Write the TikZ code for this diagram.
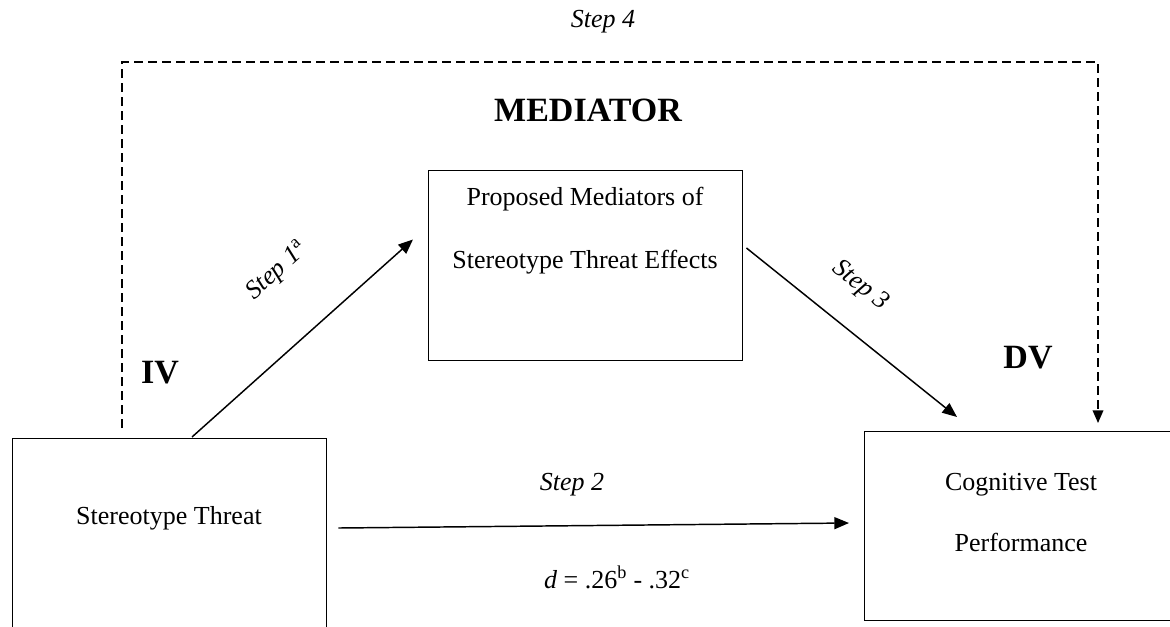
\documentclass[tikz,border=0pt]{standalone}
\usepackage{fontspec}
\setmainfont{Liberation Serif}
\usetikzlibrary{calc,arrows.meta}
\begin{document}
\begin{tikzpicture}[x=0.75pt,y=-0.75pt,
  box/.style={draw,line width=1.1pt,rectangle,inner sep=0pt,anchor=north west},
  txt/.style={font=\fontsize{19.5}{45.75}\selectfont,align=center,inner sep=0pt},
  big/.style={font=\fontsize{25.5}{30}\selectfont\bfseries,inner sep=0pt},
  arr/.style={line width=1.1pt,-{Triangle[length=11pt,width=9pt]}},
  darr/.style={line width=1.1pt,dash pattern=on 6.75pt off 3.75pt,-{Triangle[length=9.5pt,width=8pt]}}]
\useasboundingbox (0,0) rectangle (1170,626);
\clip (0,0) rectangle (1170,626);
% boxes
\node[box,minimum width=235.5pt,minimum height=170pt] (iv) at (12,438) {};
\node[box,minimum width=235.5pt,minimum height=142.5pt] (med) at (428,170) {};
\node[box,minimum width=237pt,minimum height=141.75pt] (dv) at (864,431) {};
% box texts
\node[txt] (ivt) at (169,518) {Stereotype Threat};
\node[txt,anchor=base] (medt1) at (585,205) {Proposed Mediators of};
\node[txt,anchor=base] (medt2) at (585,268) {Stereotype Threat Effects};
\node[txt,anchor=base] (dvt1) at (1021,490) {Cognitive Test};
\node[txt,anchor=base] (dvt2) at (1021,551) {Performance};
% headings
\node[big] (ivl) at (160,373) {IV};
\node[big] (dvl) at (1028,358) {DV};
\node[big] (medl) at (588,110) {MEDIATOR};
% connectors
\draw[arr] ($(iv.north west)+(180,-1)$) -- ($(med.south west)+(-15,-122)$);
\draw[arr] ($(med.north east)+(3,78)$) -- ($(dv.north west)+(93,-14)$);
\draw[arr] ($(iv.north east)+(11,90)$) -- ($(dv.north west)+(-15,92)$);
\coordinate (dstart) at ($(iv.north west)+(110,-10)$);
\coordinate (dcorner) at (122,62);
\draw[darr] (dstart) -- (dcorner) -| ($(dv.north west)+(234,-8)$);
% step labels
\node[txt,rotate=42] (s1) at (277,271) {\itshape Step 1\textsuperscript{\upshape a}};
\node[txt,rotate=-38] (s3) at (860,286) {\itshape Step 3};
\node[txt] (s2) at (572,485) {\itshape Step 2};
\node[txt] (s2d) at (617,577) {\textit{d} = .26\textsuperscript{b} - .32\textsuperscript{c}};
\node[txt] (s4) at (603,22) {\itshape Step 4};
\end{tikzpicture}
\end{document}
